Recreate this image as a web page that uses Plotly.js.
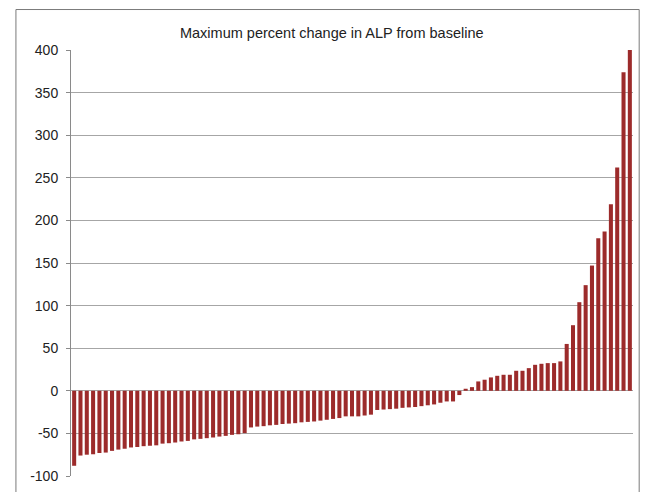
<!DOCTYPE html>
<html>
<head>
<meta charset="utf-8">
<script src="https://cdn.plot.ly/plotly-3.0.1.min.js"></script>
<style>html,body{margin:0;padding:0;background:#fff;}#chart{width:648px;height:492px;}</style>
</head>
<body>
<div id="chart"></div>
<script>
const chartTitle = "Maximum percent change in ALP from baseline";
const negativeValues = [
  -88, -76, -75, -74.5, -73, -72.5, -70.5, -69, -68, -66.5,
  -66, -65, -64.5, -64, -62, -61.5, -60.7, -59.5, -58.8, -57,
  -56.4, -55.6, -54.8, -53.7, -52.9, -51.7, -51, -49.7,
  -43, -42, -41.5, -40.5, -40, -39, -38.5, -38, -37, -36.5,
  -36, -35, -34, -33, -32,
  -30, -30, -30, -29, -28,
  -22.5, -22, -21.5, -21, -20, -19.5, -19, -18, -17, -16,
  -14, -12.5, -12.5, -5
];
const positiveValues = [
  2.4, 4.3, 11, 13, 15.7, 17.6, 18.8, 18.8, 23.5, 23.5, 26.6,
  30.5, 31.7, 32.5, 32.5, 34.5, 55, 77, 104, 124, 147, 179, 187, 219, 262, 374, 400
];
const values = negativeValues.concat(positiveValues);
const patients = values.map((v, i) => i + 1);
const yTicks = [-100, -50, 0, 50, 100, 150, 200, 250, 300, 350, 400];

const trace = {
  type: 'bar',
  x: patients,
  y: values,
  marker: {color: '#9c2b2b', line: {width: 0}},
  hoverinfo: 'y'
};

const layout = {
  width: 648, height: 492,
  margin: {l: 71, r: 15, t: 50, b: 16, pad: 0},
  paper_bgcolor: '#ffffff',
  plot_bgcolor: '#ffffff',
  showlegend: false,
  bargap: 0.36,
  font: {family: 'Liberation Sans, Arial, sans-serif', color: '#222'},
  title: {
    text: chartTitle,
    font: {size: 14.5, color: '#222', family: 'Liberation Sans, Arial, sans-serif'},
    x: 0.512, xanchor: 'center', y: 0.933, yanchor: 'middle'
  },
  xaxis: {
    range: [0.5, values.length + 0.5],
    showticklabels: false, ticks: '', showgrid: false, zeroline: false,
    showline: false, fixedrange: true
  },
  yaxis: {
    range: [-100, 400],
    tickvals: yTicks,
    ticktext: yTicks.map(String),
    tickfont: {size: 14, color: '#222'},
    ticks: 'outside', ticklen: 4, tickcolor: '#8a8a8a', tickwidth: 1,
    ticklabelstandoff: 5,
    showgrid: true, gridcolor: '#a6a6a6', gridwidth: 1,
    zeroline: false,
    showline: true, linecolor: '#8a8a8a', linewidth: 1,
    fixedrange: true
  },
  shapes: [{
    type: 'rect', xref: 'paper', yref: 'paper',
    x0: -0.098, x1: 1.011, y0: -0.06, y1: 1.095,
    line: {color: '#7a7a7a', width: 1}, fillcolor: 'rgba(0,0,0,0)', layer: 'below'
  }]
};

Plotly.newPlot('chart', [trace], layout, {displayModeBar: false, staticPlot: true});
</script>
</body>
</html>
